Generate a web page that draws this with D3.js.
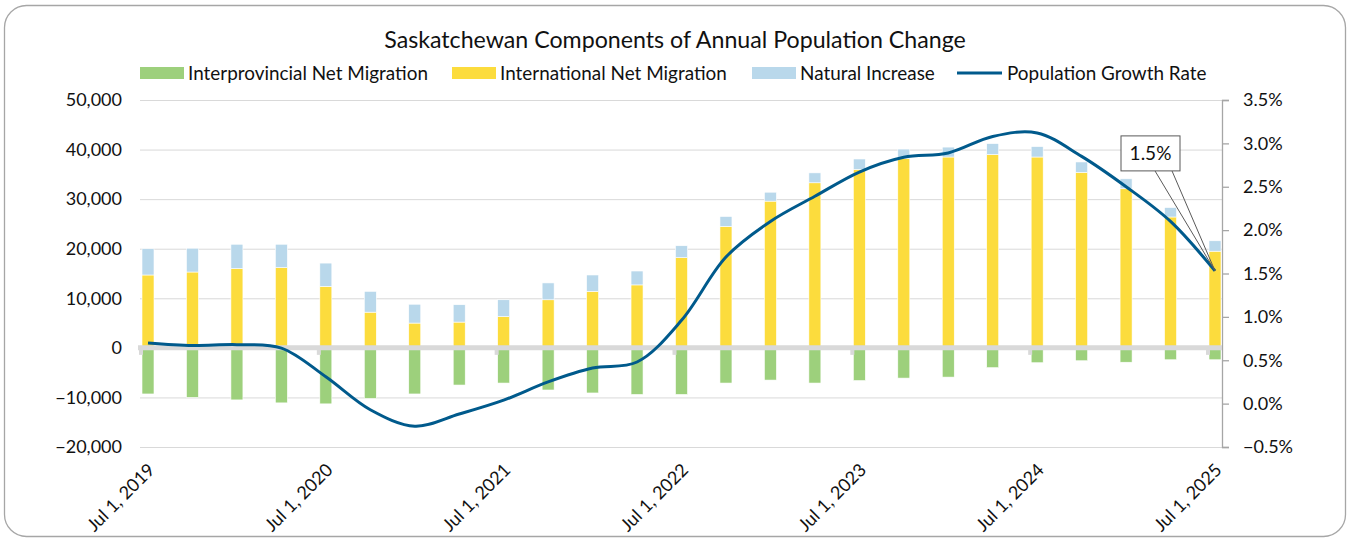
<!DOCTYPE html>
<html>
<head>
<meta charset="utf-8">
<style>
body { margin: 0; background: #fff; }
svg text { font-family: Lato, "Open Sans", sans-serif; fill: #111; }
.grid line { stroke: #d9d9d9; stroke-width: 1; }
</style>
</head>
<body>

<svg id="chart" width="1347" height="539"></svg>

<script src="https://d3js.org/d3.v7.min.js"></script>
<script>

var dates = [
    "Jul 1, 2019", "Oct 1, 2019", "Jan 1, 2020", "Apr 1, 2020",
    "Jul 1, 2020", "Oct 1, 2020", "Jan 1, 2021", "Apr 1, 2021",
    "Jul 1, 2021", "Oct 1, 2021", "Jan 1, 2022", "Apr 1, 2022",
    "Jul 1, 2022", "Oct 1, 2022", "Jan 1, 2023", "Apr 1, 2023",
    "Jul 1, 2023", "Oct 1, 2023", "Jan 1, 2024", "Apr 1, 2024",
    "Jul 1, 2024", "Oct 1, 2024", "Jan 1, 2025", "Apr 1, 2025",
    "Jul 1, 2025"
];

var interprovincial = [-9300, -10000, -10500, -11100, -11300, -10200, -9300, -7500, -7100, -8500,
    -9100, -9400, -9400, -7100, -6500, -7100, -6600, -6100, -5900, -4000,
    -3000, -2600, -2900, -2400, -2400];

var international = [14700, 15300, 16000, 16200, 12400, 7200, 5000, 5200, 6300, 9700,
    11400, 12700, 18200, 24500, 29600, 33300, 36000, 38200, 38500, 39000,
    38500, 35400, 32100, 26400, 19500];

var natural = [5300, 4800, 4900, 4700, 4700, 4200, 3800, 3500, 3400, 3400,
    3300, 2800, 2400, 2000, 1800, 2000, 2100, 1900, 2000, 2200,
    2100, 2100, 2000, 1900, 2100];

var growthRate = [0.70, 0.67, 0.68, 0.64, 0.31, -0.07, -0.26, -0.12, 0.04, 0.25,
    0.41, 0.48, 0.96, 1.69, 2.10, 2.39, 2.67, 2.84, 2.89, 3.08,
    3.12, 2.85, 2.50, 2.10, 1.53];

var leftTicks = [-20000, -10000, 0, 10000, 20000, 30000, 40000, 50000];
var rightTicks = [-0.5, 0, 0.5, 1, 1.5, 2, 2.5, 3, 3.5];
var labelDates = ["Jul 1, 2019", "Jul 1, 2020", "Jul 1, 2021", "Jul 1, 2022", "Jul 1, 2023", "Jul 1, 2024", "Jul 1, 2025"];

var seriesNames = ["Interprovincial Net Migration", "International Net Migration", "Natural Increase", "Population Growth Rate"];
var colors = ["#9dd07c", "#fcdc3d", "#b9d8eb", "#005a8c"];

var margin = {top: 100, right: 125, bottom: 92, left: 140},
    width = 1347 - margin.left - margin.right,
    height = 539 - margin.top - margin.bottom;

var svg = d3.select("#chart");

// outer rounded border
svg.append("rect")
    .attr("x", 4.5).attr("y", 5.5)
    .attr("width", 1341).attr("height", 531)
    .attr("rx", 22)
    .attr("fill", "#fff")
    .attr("stroke", "#a6a6a6")
    .attr("stroke-width", 1.3);

svg.append("text")
    .attr("x", 675).attr("y", 48)
    .attr("text-anchor", "middle")
    .style("font-size", "23.2px")
    .text("Saskatchewan Components of Annual Population Change");

var chart = svg.append("g")
    .attr("transform", "translate(" + margin.left + "," + margin.top + ")");

var xScale = d3.scalePoint()
    .domain(dates)
    .range([8, width - 7]);

var yScale = d3.scaleLinear()
    .domain([-20000, 50000])
    .range([height, 0]);

var y2Scale = d3.scaleLinear()
    .domain([-0.5, 3.5])
    .range([height, 0]);

// gridlines
chart.append("g")
    .attr("class", "grid")
    .selectAll("line")
    .data(leftTicks.filter(function(d) { return d !== 0; }))
    .enter()
    .append("line")
    .attr("x1", 0).attr("x2", width)
    .attr("y1", function(d) { return yScale(d) + 0.5; })
    .attr("y2", function(d) { return yScale(d) + 0.5; });

// left axis labels
var yAxis = chart.append("g")
    .call(d3.axisLeft(yScale).tickValues(leftTicks).tickSize(0).tickPadding(18).tickFormat(d3.format(",")));
yAxis.select(".domain").remove();
yAxis.selectAll("text").style("font-size", "18px");

// right axis
var y2Axis = chart.append("g")
    .attr("transform", "translate(" + width + ",0)")
    .call(d3.axisRight(y2Scale).tickValues(rightTicks).tickSize(7).tickPadding(14).tickFormat(function(d) { return d3.format(".1f")(d) + "%"; }));
y2Axis.select(".domain").attr("stroke", "#a6a6a6").attr("stroke-width", 1.3);
y2Axis.selectAll(".tick line").attr("stroke", "#a6a6a6").attr("stroke-width", 1.3);
y2Axis.selectAll("text").style("font-size", "18px");

// stacked bars
var table = dates.map(function(d, i) {
    return {date: d, inter: interprovincial[i], intl: international[i], nat: natural[i]};
});

var stacked = d3.stack()
    .keys(["inter", "intl", "nat"])
    .offset(d3.stackOffsetDiverging)(table);

var barWidth = 12;

chart.selectAll(".series")
    .data(stacked)
    .enter()
    .append("g")
    .attr("class", "series")
    .attr("fill", function(d, i) { return colors[i]; })
    .selectAll("rect")
    .data(function(d) { return d; })
    .enter()
    .append("rect")
    .attr("x", function(d) { return xScale(d.data.date) - barWidth / 2; })
    .attr("y", function(d) { return yScale(d[1]); })
    .attr("width", barWidth)
    .attr("height", function(d) { return yScale(d[0]) - yScale(d[1]); })
    .attr("stroke", "#fff")
    .attr("stroke-width", 0.6);

// zero line with ticks
chart.append("line")
    .attr("x1", -2).attr("x2", width)
    .attr("y1", yScale(0)).attr("y2", yScale(0))
    .attr("stroke", "#d9d9d9")
    .attr("stroke-width", 5);

chart.append("g")
    .selectAll("line")
    .data(labelDates)
    .enter()
    .append("line")
    .attr("x1", function(d) { return xScale(d) - 7; })
    .attr("x2", function(d) { return xScale(d) - 7; })
    .attr("y1", yScale(0))
    .attr("y2", yScale(0) + 7)
    .attr("stroke", "#d9d9d9")
    .attr("stroke-width", 4);

// x labels
chart.append("g")
    .selectAll("text")
    .data(labelDates)
    .enter()
    .append("text")
    .attr("text-anchor", "end")
    .attr("transform", function(d) { return "translate(" + (xScale(d) + 8) + "," + (height + 24) + ") rotate(-45)"; })
    .style("font-size", "18px")
    .text(function(d) { return d; });

// growth rate line
var line = d3.line()
    .x(function(d, i) { return xScale(dates[i]); })
    .y(function(d) { return y2Scale(d); })
    .curve(d3.curveCatmullRom.alpha(0.5));

chart.append("path")
    .datum(growthRate)
    .attr("fill", "none")
    .attr("stroke", colors[3])
    .attr("stroke-width", 3)
    .attr("d", line);

// callout for last value
var lastX = xScale(dates[dates.length - 1]),
    lastY = y2Scale(growthRate[growthRate.length - 1]);
var boxX = lastX - 94, boxY = lastY - 135, boxW = 59, boxH = 35;

chart.append("path")
    .attr("d", "M" + (lastX - 60) + "," + (boxY + boxH) + "L" + lastX + "," + lastY + "L" + (lastX - 43) + "," + (boxY + boxH))
    .attr("fill", "none")
    .attr("stroke", "#595959")
    .attr("stroke-width", 1);

chart.append("rect")
    .attr("x", boxX).attr("y", boxY)
    .attr("width", boxW).attr("height", boxH)
    .attr("fill", "#fff")
    .attr("stroke", "#595959")
    .attr("stroke-width", 1);

chart.append("text")
    .attr("x", boxX + boxW / 2).attr("y", boxY + boxH / 2)
    .attr("dy", "0.36em")
    .attr("text-anchor", "middle")
    .style("font-size", "19px")
    .text(d3.format(".1f")(growthRate[growthRate.length - 1]) + "%");

// legend
var legendX = [140, 452, 752, 957];
var legend = svg.append("g")
    .selectAll("g")
    .data(seriesNames)
    .enter()
    .append("g")
    .attr("transform", function(d, i) { return "translate(" + legendX[i] + ",73)"; });

legend.each(function(d, i) {
    var g = d3.select(this);
    if (i < 3) {
        g.append("rect")
            .attr("x", 0).attr("y", -6)
            .attr("width", 44).attr("height", 12)
            .attr("fill", colors[i]);
    } else {
        g.append("line")
            .attr("x1", 0).attr("x2", 45)
            .attr("y1", 0).attr("y2", 0)
            .attr("stroke", colors[i])
            .attr("stroke-width", 3);
    }
    g.append("text")
        .attr("x", i < 3 ? 48 : 50)
        .attr("dy", "0.36em")
        .style("font-size", "18.9px")
        .text(d);
});

</script>
</body>
</html>
